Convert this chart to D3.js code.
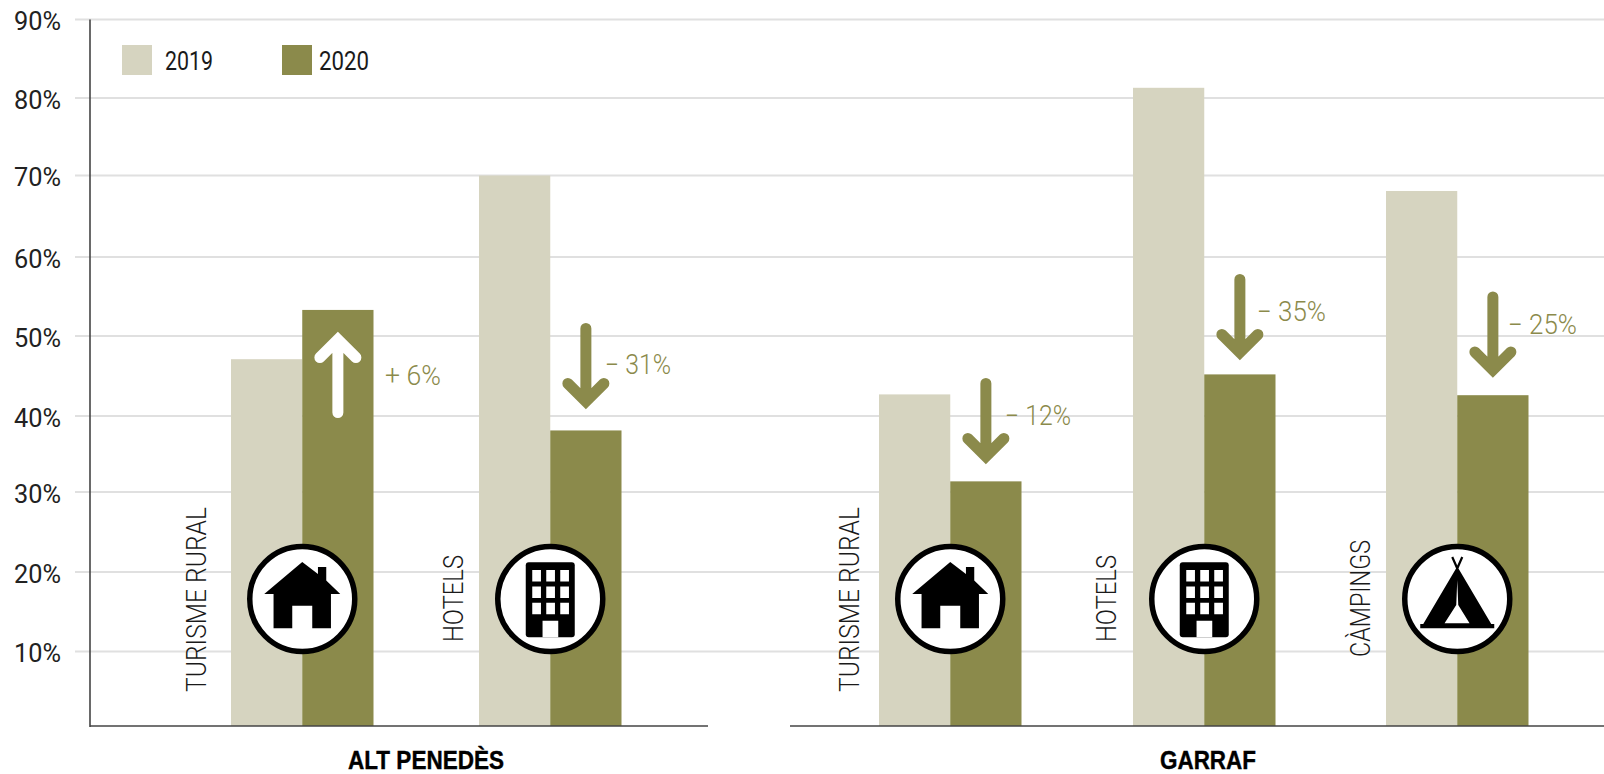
<!DOCTYPE html>
<html>
<head>
<meta charset="utf-8">
<script src="https://cdn.jsdelivr.net/npm/d3@7"></script>
<style>
  html, body { margin: 0; padding: 0; background: #fff; }
  svg { display: block; }
  text { font-family: Roboto, "Liberation Sans", sans-serif; font-weight: 300; fill: #1a1a1a; }
  .region { font-family: "Liberation Sans Narrow", "Liberation Sans", sans-serif; font-weight: 700; fill: #000; stroke: #000; stroke-width: 0.4; }
  .delta { fill: #8b8a4b; }
</style>
</head>
<body>
<svg id="chart" width="1604" height="774"></svg>
<script>
// values
const years = ['2019', '2020'];
const regions = ['ALT PENEDÈS', 'GARRAF'];
const categories = ['TURISME RURAL', 'HOTELS', 'TURISME RURAL', 'HOTELS', 'CÀMPINGS'];
const categoryIcon = ['house', 'building', 'house', 'building', 'tent'];
const values2019 = [47.1, 70, 42.7, 81.3, 68.1];
const values2020 = [53.3, 38.1, 31.4, 45.2, 42.6];
const deltaLabels = ['+ 6%', '− 31%', '− 12%', '− 35%', '− 25%'];
const yTicks = [10, 20, 30, 40, 50, 60, 70, 80, 90];

const width = 1604, height = 774;
const colors = { '2019': '#d6d4c0', '2020': '#8b8a4b' };
const svg = d3.select('#chart');

// the printed grid is not evenly spaced, so the scale is piecewise
const y = d3.scaleLinear()
    .domain([0, 10, 20, 30, 40, 50, 60, 70, 80, 90])
    .range([726, 651.5, 572, 492, 416, 336, 257, 175.5, 98, 19.5]);

// one slot per category, the slots are hand spaced like the original
const x = d3.scaleOrdinal()
    .domain(d3.range(categories.length))
    .range([231, 479, 879, 1133, 1386]);
const xYear = d3.scaleBand().domain(years).range([0, 142.5]);

// layout per category
const layout = {
    labelX: [196, 453, 849, 1106, 1360],
    labelY: [692, 642, 692, 642, 657],
    labelLen: [185, 87, 185, 87, 117],
    arrowTip: [332, 409, 464, 360, 377.5],
    deltaX: [385, 605, 1005, 1257, 1508],
    deltaY: [385, 374, 425, 321, 333.5],
    deltaLen: [56, 66, 66, 69, 69]
};

// grid
svg.append('g')
    .attr('class', 'grid')
    .selectAll('line')
    .data(yTicks)
    .join('line')
        .attr('x1', 75)
        .attr('x2', width)
        .attr('y1', d => y(d))
        .attr('y2', d => y(d))
        .attr('stroke', '#e0e0e0')
        .attr('stroke-width', 2);

// bars
const rows = categories.map((c, i) => ({ i, c, v: [values2019[i], values2020[i]] }));
years.forEach((yr, k) => {
    svg.append('g')
        .attr('class', `bars-${yr}`)
        .selectAll('rect')
        .data(rows)
        .join('rect')
            .attr('x', d => x(d.i) + xYear(yr))
            .attr('y', d => y(d.v[k]))
            .attr('width', xYear.bandwidth())
            .attr('height', d => y(0) - y(d.v[k]))
            .attr('fill', colors[yr]);
});

// y axis
const yAxis = d3.axisLeft(y)
    .tickValues(yTicks)
    .tickSize(0)
    .tickPadding(0)
    .tickFormat(d => `${d}%`);
const axisG = svg.append('g')
    .attr('transform', 'translate(61,0)')
    .call(yAxis);
axisG.select('.domain').remove();
axisG.selectAll('text')
    .attr('dy', '0.4em')
    .attr('textLength', 47)
    .attr('lengthAdjust', 'spacingAndGlyphs')
    .style('font-size', '25px')
    .style('font-family', 'Roboto, sans-serif')
    .style('font-weight', 400)
    .style('fill', '#222');

// axis lines
svg.append('line')
    .attr('x1', 90).attr('x2', 90)
    .attr('y1', y(90)).attr('y2', y(0) + 1)
    .attr('stroke', '#444').attr('stroke-width', 1.6);
svg.selectAll('.baseline')
    .data([[90, 708], [790, width]])
    .join('line')
        .attr('class', 'baseline')
        .attr('x1', d => d[0])
        .attr('x2', d => d[1])
        .attr('y1', y(0))
        .attr('y2', y(0))
        .attr('stroke', '#444')
        .attr('stroke-width', 1.6);

// legend
const legend = svg.append('g').selectAll('g')
    .data(years)
    .join('g')
        .attr('transform', (d, i) => `translate(${[122, 282][i]},45)`);
legend.append('rect')
    .attr('width', 30).attr('height', 30)
    .attr('fill', d => colors[d]);
legend.append('text')
    .attr('x', (d, i) => [43, 37][i])
    .attr('y', 24.5)
    .attr('font-size', 25)
    .attr('textLength', (d, i) => [48, 50][i])
    .attr('lengthAdjust', 'spacingAndGlyphs')
    .style('font-weight', 400)
    .text(d => d);

// arrows: same size everywhere, up for a rise
const arrowPath = (cx, tip, up) => {
    const s = up ? 1 : -1;
    const apex = tip + s * 7.5;
    const wing = apex + s * 18;
    const end = apex + s * 73;
    return `M${cx},${end}L${cx},${apex}M${cx - 18},${wing}L${cx},${apex}L${cx + 18},${wing}`;
};
svg.append('g')
    .attr('class', 'arrows')
    .selectAll('path')
    .data(rows)
    .join('path')
        .attr('d', d => {
            const up = d.v[1] > d.v[0];
            return arrowPath(x(d.i) + xYear('2020') + xYear.bandwidth() / 2, layout.arrowTip[d.i], up);
        })
        .attr('fill', 'none')
        .attr('stroke', d => d.v[1] > d.v[0] ? '#fff' : colors['2020'])
        .attr('stroke-width', 11)
        .attr('stroke-linecap', 'round')
        .attr('stroke-linejoin', 'miter');

svg.append('g')
    .selectAll('text')
    .data(rows)
    .join('text')
        .attr('class', 'delta')
        .attr('x', d => layout.deltaX[d.i])
        .attr('y', d => layout.deltaY[d.i])
        .attr('font-size', 27)
        .attr('textLength', d => layout.deltaLen[d.i])
        .attr('lengthAdjust', 'spacingAndGlyphs')
        .text(d => deltaLabels[d.i]);

// category labels
svg.append('g')
    .selectAll('text')
    .data(rows)
    .join('text')
        .attr('transform', d => `translate(${layout.labelX[d.i]},${layout.labelY[d.i]}) rotate(-90)`)
        .attr('dy', '0.36em')
        .attr('font-size', 27)
        .attr('textLength', d => layout.labelLen[d.i])
        .attr('lengthAdjust', 'spacingAndGlyphs')
        .text(d => d.c);

// region labels
svg.append('g')
    .selectAll('text')
    .data(regions)
    .join('text')
        .attr('class', 'region')
        .attr('x', (d, i) => [426, 1208][i])
        .attr('y', 769)
        .attr('text-anchor', 'middle')
        .attr('font-size', 25)
        .attr('textLength', (d, i) => [156, 96][i])
        .attr('lengthAdjust', 'spacingAndGlyphs')
        .text(d => d);

// icons, drawn around the circle centre
const windows = d3.cross([-18, -4, 10], [-29, -12.5, 3.7])
    .map(([wx, wy]) => `M${wx},${wy}h8.7v11.6h-8.7z`).join('');
const iconPaths = {
    house: [
        { d: 'M0,-37L15.7,-25V-32H24V-18.5L38,-5H28.7V29.3H10V6.7H-10V29.3H-28.7V-5H-38Z', fill: '#000' }
    ],
    building: [
        { d: 'M-21.5,-36.7H21.5Q24.5,-36.7 24.5,-33.7V35.3Q24.5,38.3 21.5,38.3H-21.5Q-24.5,38.3 -24.5,35.3V-33.7Q-24.5,-36.7 -21.5,-36.7Z', fill: '#000' },
        { d: windows + 'M-7.7,21.7H8V38.3H-7.7Z', fill: '#fff' }
    ],
    tent: [
        { d: 'M-6,-41.5L-4,-42.5L0,-33.5L4,-42.5L6,-41.5L1.2,-30.5L34,25H37V29.3H-37V25H-34L-1.2,-30.5Z', fill: '#000' },
        { d: 'M0,-19L1,6L12.3,24.3H-12.7L-1,6Z', fill: '#fff' }
    ]
};
const icons = svg.append('g')
    .attr('class', 'icons')
    .selectAll('g')
    .data(rows)
    .join('g')
        .attr('transform', d => `translate(${x(d.i) + xYear('2020')},599)`);
icons.append('circle')
    .attr('r', 52.5)
    .attr('fill', '#fff')
    .attr('stroke', '#000')
    .attr('stroke-width', 5.5);
icons.selectAll('path')
    .data(d => iconPaths[categoryIcon[d.i]])
    .join('path')
        .attr('d', d => d.d)
        .attr('fill', d => d.fill);
</script>
</body>
</html>
